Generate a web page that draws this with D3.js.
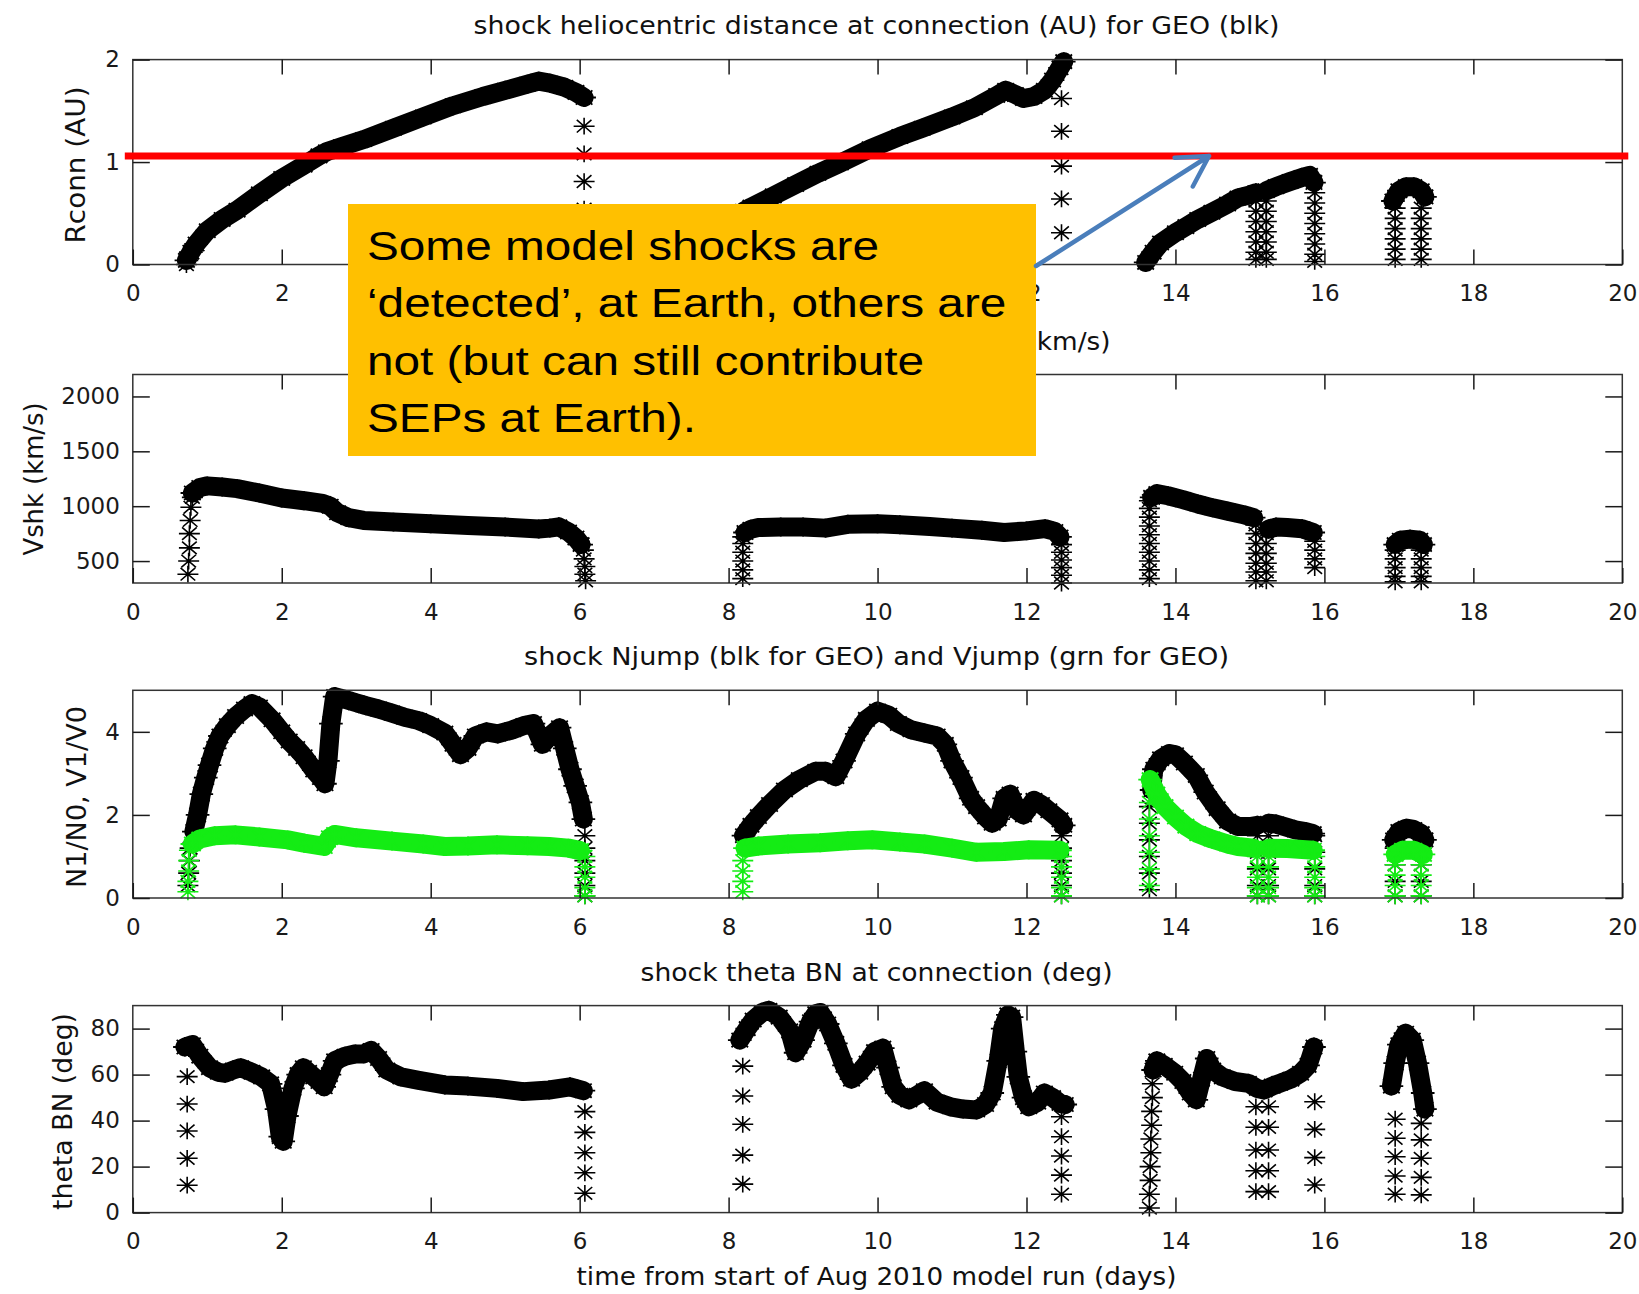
<!DOCTYPE html>
<html><head><meta charset="utf-8">
<script src="https://cdn.jsdelivr.net/npm/d3@7"></script>
<style>body{margin:0;background:#fff}svg{display:block}</style>
</head><body><svg id="c" width="1639" height="1294"></svg>
<script>
// ---------------- DATA ----------------
const xTicks = [0,2,4,6,8,10,12,14,16,18,20];
const rconnTicks = [0,1,2];
const vshkTicks = [500,1000,1500,2000];
const jumpTicks = [0,2,4];
const thetaTicks = [0,20,40,60,80];

// Panel 1: Rconn (AU)
const rconnA = [[0.72,0.04],[0.78,0.12],[0.85,0.2],[1.0,0.33],[1.2,0.44],[1.4,0.53],[1.7,0.69],[2.0,0.84],[2.3,0.97],[2.5,1.06],[2.6,1.1],[2.8,1.15],[3.1,1.22],[3.5,1.33],[3.9,1.44],[4.3,1.55],[4.7,1.64],[5.0,1.70],[5.3,1.76],[5.45,1.79],[5.6,1.77],[5.8,1.73],[5.95,1.68],[6.06,1.63]];
const rconnB = [[8.2,0.52],[8.3,0.56],[8.6,0.67],[8.9,0.78],[9.2,0.89],[9.5,0.99],[9.9,1.13],[10.3,1.25],[10.6,1.33],[11.0,1.44],[11.3,1.53],[11.6,1.65],[11.72,1.70],[11.85,1.66],[11.96,1.62],[12.1,1.64],[12.24,1.70],[12.35,1.8],[12.45,1.92],[12.5,1.98]];
const rconnC = [[13.6,0.02],[13.7,0.12],[13.8,0.21],[14.0,0.31],[14.14,0.37],[14.3,0.44],[14.49,0.51],[14.7,0.59],[14.84,0.65],[15.0,0.68],[15.08,0.70]];
const rconnD = [[15.22,0.72],[15.35,0.76],[15.54,0.81],[15.7,0.85],[15.8,0.87],[15.86,0.8]];
const rconnE = [[16.92,0.62],[17.0,0.72],[17.1,0.76],[17.2,0.76],[17.3,0.72],[17.35,0.66]];
const rconnStars = [[0.72,0.0],[6.06,1.35],[6.06,1.08],[6.06,0.81],[6.06,0.54],[6.06,0.27],[6.06,0.02],
  [8.2,0.4],[8.2,0.27],[8.2,0.13],[8.2,0.0],
  [12.47,1.62],[12.47,1.30],[12.47,0.96],[12.47,0.64],[12.47,0.31],
  [15.08,0.62],[15.08,0.52],[15.08,0.42],[15.08,0.32],[15.08,0.22],[15.08,0.12],[15.08,0.05],
  [15.22,0.62],[15.22,0.52],[15.22,0.42],[15.22,0.32],[15.22,0.22],[15.22,0.12],[15.22,0.05],
  [15.87,0.7],[15.87,0.6],[15.87,0.5],[15.87,0.4],[15.87,0.3],[15.87,0.2],[15.87,0.1],[15.87,0.03],
  [16.95,0.55],[16.95,0.45],[16.95,0.35],[16.95,0.25],[16.95,0.15],[16.95,0.05],
  [17.3,0.55],[17.3,0.45],[17.3,0.35],[17.3,0.25],[17.3,0.15],[17.3,0.05]];

// Panel 2: Vshk (km/s)
const vshkA = [[0.8,1120],[0.9,1170],[1.0,1185],[1.2,1175],[1.4,1160],[1.7,1120],[2.0,1075],[2.3,1050],[2.55,1025],[2.65,1000],[2.75,940],[2.9,895],[3.1,870],[3.5,855],[4.0,840],[4.5,825],[5.0,810],[5.45,792],[5.6,800],[5.72,812],[5.85,765],[5.95,710],[6.02,650]];
const vshkB = [[8.22,760],[8.3,790],[8.4,805],[8.7,810],[9.0,810],[9.3,800],[9.6,835],[10.0,840],[10.3,830],[10.7,815],[11.0,800],[11.4,780],[11.7,760],[12.0,775],[12.25,795],[12.38,770],[12.45,720]];
const vshkC = [[13.68,1080],[13.75,1115],[13.9,1095],[14.1,1060],[14.3,1020],[14.5,985],[14.7,955],[14.9,925],[15.05,895]];
const vshkD = [[15.25,790],[15.35,810],[15.5,805],[15.7,795],[15.85,760]];
const vshkE = [[16.95,650],[17.02,690],[17.15,700],[17.28,690],[17.33,650]];
const vshkStars = [[0.74,380],[0.75,500],[0.76,620],[0.76,750],[0.77,870],[0.78,990],[0.8,1080],
  [6.05,600],[6.06,520],[6.07,450],[6.07,380],[6.08,320],
  [8.19,340],[8.19,420],[8.19,500],[8.19,580],[8.19,660],[8.19,720],
  [12.47,650],[12.47,580],[12.47,510],[12.47,440],[12.47,370],[12.47,300],
  [13.65,340],[13.65,420],[13.65,500],[13.65,580],[13.65,660],[13.65,740],[13.65,820],[13.65,900],[13.65,980],[13.65,1050],
  [15.08,830],[15.08,750],[15.08,660],[15.08,570],[15.08,480],[15.08,400],[15.08,320],
  [15.22,750],[15.22,660],[15.22,570],[15.22,480],[15.22,400],[15.22,320],
  [15.87,680],[15.87,600],[15.87,520],[15.87,440],
  [16.95,600],[16.95,520],[16.95,440],[16.95,360],[16.95,310],
  [17.3,600],[17.3,520],[17.3,440],[17.3,360],[17.3,310]];

// Panel 3: Njump (black)
const njA = [[0.82,1.6],[0.87,2.0],[0.92,2.5],[0.98,2.9],[1.03,3.2],[1.1,3.6],[1.17,3.9],[1.27,4.15],[1.38,4.37],[1.5,4.55],[1.6,4.68],[1.7,4.6],[1.87,4.29],[2.0,4.0],[2.1,3.78],[2.2,3.6],[2.3,3.4],[2.43,3.08],[2.52,2.9],[2.58,2.75],[2.62,3.3],[2.66,4.2],[2.71,4.85],[2.85,4.78],[3.0,4.7],[3.13,4.63],[3.3,4.55],[3.48,4.45],[3.65,4.35],[3.84,4.27],[4.0,4.15],[4.19,3.97],[4.3,3.7],[4.4,3.45],[4.5,3.6],[4.6,3.9],[4.75,4.0],[4.9,3.95],[5.1,4.05],[5.25,4.15],[5.38,4.2],[5.5,3.7],[5.6,3.9],[5.73,4.1],[5.8,3.6],[5.87,3.1],[5.94,2.7],[6.01,2.3],[6.05,1.9]];
const njB = [[8.2,1.5],[8.3,1.75],[8.4,1.96],[8.55,2.25],[8.75,2.6],[8.95,2.85],[9.17,3.05],[9.3,3.05],[9.44,2.92],[9.55,3.3],[9.72,3.95],[9.85,4.3],[10.0,4.5],[10.15,4.4],[10.28,4.2],[10.45,4.05],[10.63,3.97],[10.8,3.9],[10.91,3.7],[11.0,3.3],[11.12,2.9],[11.25,2.4],[11.33,2.2],[11.45,1.95],[11.54,1.8],[11.62,1.9],[11.7,2.4],[11.78,2.5],[11.88,2.1],[11.96,2.0],[12.1,2.35],[12.2,2.25],[12.3,2.1],[12.45,1.88],[12.5,1.75]];
const njC = [[13.68,2.6],[13.71,3.1],[13.8,3.35],[13.92,3.48],[14.0,3.45],[14.12,3.25],[14.28,2.95],[14.4,2.55],[14.56,2.15],[14.7,1.85],[14.84,1.72],[15.0,1.72],[15.1,1.75]];
const njD = [[15.25,1.8],[15.35,1.78],[15.5,1.7],[15.61,1.64],[15.75,1.6],[15.85,1.55]];
const njE = [[16.93,1.4],[17.0,1.6],[17.1,1.68],[17.2,1.65],[17.3,1.55],[17.35,1.4]];
const njStars = [[0.74,0.3],[0.75,0.6],[0.76,0.9],[0.77,1.2],
  [6.07,1.5],[6.07,1.2],[6.07,0.9],[6.07,0.6],[6.07,0.3],[6.07,0.05],
  [12.47,1.5],[12.47,1.2],[12.47,0.9],[12.47,0.6],[12.47,0.3],[12.47,0.05],
  [13.65,0.2],[13.65,0.6],[13.65,1.0],[13.65,1.4],[13.65,1.8],[13.65,2.2],
  [15.1,1.5],[15.1,1.1],[15.1,0.7],[15.1,0.3],[15.1,0.05],
  [15.25,1.5],[15.25,1.1],[15.25,0.7],[15.25,0.3],[15.25,0.05],
  [15.87,1.5],[15.87,1.1],[15.87,0.7],[15.87,0.3],[15.87,0.05],
  [16.95,1.2],[16.95,0.8],[16.95,0.4],[16.95,0.05],
  [17.3,1.2],[17.3,0.8],[17.3,0.4],[17.3,0.05]];

// Panel 3: Vjump (green)
const vjA = [[0.8,1.3],[0.9,1.42],[1.1,1.5],[1.38,1.52],[1.7,1.47],[2.08,1.40],[2.3,1.32],[2.57,1.24],[2.64,1.45],[2.71,1.53],[3.0,1.45],[3.48,1.37],[3.9,1.3],[4.19,1.24],[4.5,1.25],[4.89,1.28],[5.3,1.26],[5.59,1.24],[5.85,1.2],[6.01,1.14]];
const vjB = [[8.22,1.2],[8.4,1.25],[8.8,1.3],[9.23,1.33],[9.6,1.38],[9.93,1.40],[10.3,1.35],[10.63,1.3],[11.0,1.2],[11.33,1.1],[11.7,1.12],[12.03,1.16],[12.45,1.15]];
const vjC = [[13.66,2.85],[13.75,2.5],[13.86,2.2],[14.0,1.95],[14.14,1.73],[14.3,1.55],[14.49,1.42],[14.7,1.3],[14.84,1.24],[15.05,1.2]];
const vjD = [[15.25,1.2],[15.5,1.19],[15.7,1.17],[15.85,1.15]];
const vjE = [[16.95,1.05],[17.05,1.15],[17.2,1.15],[17.33,1.05]];
const vjStars = [[0.74,0.15],[0.74,0.4],[0.75,0.65],[0.75,0.9],[0.76,1.15],
  [6.07,1.0],[6.07,0.75],[6.07,0.5],[6.07,0.25],[6.07,0.05],
  [8.19,0.15],[8.19,0.4],[8.19,0.65],[8.19,0.9],
  [12.47,1.0],[12.47,0.75],[12.47,0.5],[12.47,0.25],[12.47,0.05],
  [13.65,0.3],[13.65,0.7],[13.65,1.1],[13.65,1.5],[13.65,1.9],[13.65,2.3],
  [15.1,1.0],[15.1,0.75],[15.1,0.5],[15.1,0.25],[15.1,0.05],
  [15.25,1.0],[15.25,0.75],[15.25,0.5],[15.25,0.25],[15.25,0.05],
  [15.87,1.0],[15.87,0.75],[15.87,0.5],[15.87,0.25],[15.87,0.05],
  [16.95,0.8],[16.95,0.55],[16.95,0.3],[16.95,0.05],
  [17.3,0.8],[17.3,0.55],[17.3,0.3],[17.3,0.05]];

// Panel 4: theta BN (deg)
const thA = [[0.7,72],[0.8,73],[0.9,68],[1.03,63],[1.15,61],[1.24,60.6],[1.35,62],[1.45,63],[1.6,61],[1.73,59],[1.85,56],[1.93,45],[1.98,33],[2.02,31],[2.07,42],[2.15,54],[2.22,60],[2.29,63],[2.36,61],[2.43,59],[2.5,57],[2.57,54.7],[2.64,60],[2.71,66],[2.85,68],[2.99,69],[3.1,69],[3.2,70.5],[3.3,67],[3.41,62],[3.6,59],[3.84,57.5],[4.19,55.5],[4.5,55],[4.89,54],[5.24,52.6],[5.59,53.3],[5.87,54.7],[6.05,53]];
const thB = [[8.15,75],[8.25,80],[8.33,83.7],[8.45,87],[8.54,88],[8.68,85],[8.82,79],[8.9,69.5],[9.0,75],[9.1,83],[9.17,86.5],[9.23,87],[9.33,82],[9.44,73.6],[9.55,64],[9.65,58],[9.76,61],[9.86,65],[9.96,70],[10.07,71.5],[10.14,63],[10.21,54.7],[10.3,51],[10.42,49],[10.53,51],[10.63,53],[10.8,48],[10.98,46],[11.15,45],[11.33,44.6],[11.45,47],[11.54,52],[11.62,66],[11.68,80],[11.75,86],[11.8,85],[11.85,70],[11.89,59],[11.96,50],[12.03,46],[12.15,48],[12.24,52],[12.35,50],[12.45,47.5],[12.52,47]];
const thC = [[13.7,62],[13.75,66],[13.85,64],[13.99,60.6],[14.1,57],[14.2,52],[14.28,49],[14.35,58],[14.42,67],[14.5,62],[14.63,59],[14.8,57],[14.98,56.2],[15.1,54],[15.19,53.3],[15.3,55],[15.4,56.2],[15.55,58],[15.68,60.6],[15.78,64],[15.86,72]];
const thE = [[16.9,55],[16.95,65],[17.0,73],[17.09,78],[17.18,75],[17.25,65],[17.32,52],[17.35,45]];
const thStars = [[0.73,59.1],[0.73,47.2],[0.73,35.5],[0.73,23.6],[0.73,11.9],
  [6.07,43.9],[6.07,34.9],[6.07,26],[6.07,17.3],[6.07,8.4],
  [8.19,63.7],[8.19,50.7],[8.19,38.4],[8.19,25],[8.19,12.4],
  [12.47,41.7],[12.47,33],[12.47,24.6],[12.47,16.3],[12.47,8],
  [13.65,2],[13.65,8],[13.66,14],[13.66,20],[13.67,26],[13.67,32],[13.68,38],[13.68,44],[13.69,50],[13.69,56],
  [15.08,46],[15.08,37.1],[15.08,27.2],[15.08,18.2],[15.08,9.1],
  [15.25,46],[15.25,37.1],[15.25,27.2],[15.25,18.2],[15.25,9.1],
  [15.87,48.2],[15.87,36.2],[15.87,23.9],[15.87,12],
  [16.95,40.6],[16.95,32.3],[16.95,24.3],[16.95,15.9],[16.95,8],
  [17.3,38.8],[17.3,31.6],[17.3,23.6],[17.3,15.3],[17.3,7.7]];

const titles = ["shock heliocentric distance at connection (AU) for GEO (blk)",
  "shock velocity at connection (km/s)",
  "shock Njump (blk for GEO) and Vjump (grn for GEO)",
  "shock theta BN at connection (deg)"];
const yLabels = ["Rconn (AU)","Vshk (km/s)","N1/N0, V1/V0","theta BN (deg)"];
const xLabel = "time from start of Aug 2010 model run (days)";
const noteLines = ["Some model shocks are","\u2018detected\u2019, at Earth, others are","not (but can still contribute","SEPs at Earth)."];
const earthLine = 1.06;

// ---------------- DRAWING ----------------
const svg = d3.select('#c');
const FONT = 'DejaVu Sans';
const X0 = 132.8, X1 = 1622.3;
const x = d3.scaleLinear().domain([0,20]).range([X0, X1]);

const asterisk = {draw(ctx, size){
  const rx = Math.sqrt(size)/2, ry = rx*0.8, dx = rx*0.7, dy = ry*0.75;
  ctx.moveTo(-rx,0); ctx.lineTo(rx,0);
  ctx.moveTo(0,-ry); ctx.lineTo(0,ry);
  ctx.moveTo(-dx,-dy); ctx.lineTo(dx,dy);
  ctx.moveTo(-dx,dy); ctx.lineTo(dx,-dy);
}};
const sym = d3.symbol().type(asterisk).size(440);
const bandSym = d3.symbol().type(asterisk).size(560);

const GREEN = '#14ec14';
const panels = [
  {top:59.6, bottom:264.5, domain:[0,2], ticks:rconnTicks,
   series:[{color:'#000', bands:[rconnA,rconnB,rconnC,rconnD,rconnE], stars:rconnStars}],
   title:titles[0], tBase:33.5, tLen:806, yl:yLabels[0], ylx:85, yly:165, ylLen:157},
  {top:374.5, bottom:583, domain:[300,2200], ticks:vshkTicks,
   series:[{color:'#000', bands:[vshkA,vshkB,vshkC,vshkD,vshkE], stars:vshkStars}],
   title:titles[1], tBase:350, tLen:468, yl:yLabels[1], ylx:42.5, yly:479, ylLen:153},
  {top:690.3, bottom:898, domain:[0,5], ticks:jumpTicks,
   series:[{color:'#000', bands:[njA,njB,njC,njD,njE], stars:njStars},
           {color:GREEN, bands:[vjA,vjB,vjC,vjD,vjE], stars:vjStars}],
   title:titles[2], tBase:665, tLen:705, yl:yLabels[2], ylx:86, yly:797, ylLen:182},
  {top:1005.6, bottom:1212.6, domain:[0,90], ticks:thetaTicks,
   series:[{color:'#000', bands:[thA,thB,thC,thE], stars:thStars}],
   title:titles[3], tBase:980.5, tLen:472, yl:yLabels[3], ylx:71.5, yly:1111.5, ylLen:197}
];

const xMid = (X0+X1)/2 - 1;
const scales = [];
const fmt = d => String(d);

panels.forEach(p => {
  const y = d3.scaleLinear().domain(p.domain).range([p.bottom, p.top]);
  scales.push(y);
  const g = svg.append('g');
  const line = d3.line().x(d=>x(d[0])).y(d=>y(d[1]));
  p.series.forEach(s => {
    s.bands.forEach(b => {
      g.append('path').datum(b).attr('d', line)
        .attr('fill','none').attr('stroke', s.color).attr('stroke-width', 19)
        .attr('stroke-linejoin','round').attr('stroke-linecap','round');
      g.append('g').selectAll('path').data(b).join('path')
        .attr('transform', d=>`translate(${x(d[0])},${y(d[1])})`)
        .attr('d', bandSym).attr('fill','none').attr('stroke', s.color).attr('stroke-width', 1.8);
    });
    g.append('g').selectAll('path').data(s.stars).join('path')
      .attr('transform', d=>`translate(${x(d[0])},${y(d[1])})`)
      .attr('d', sym).attr('fill','none').attr('stroke', s.color).attr('stroke-width', 1.6);
  });

  // frame
  svg.append('rect').attr('x', X0).attr('y', p.top).attr('width', X1-X0).attr('height', p.bottom-p.top)
    .attr('fill','none').attr('stroke','#333').attr('stroke-width',1.5);

  const style = sel => sel.attr('font-family', FONT).attr('font-size', 23).style('color', '#1a1a1a');
  const gb = svg.append('g').attr('transform', `translate(0,${p.bottom})`)
    .call(d3.axisBottom(x).tickValues(xTicks).tickFormat(fmt).tickSizeInner(-15).tickSizeOuter(0).tickPadding(20.5));
  style(gb); gb.select('.domain').remove(); gb.selectAll('line').attr('stroke-width',1.5);
  const gt = svg.append('g').attr('transform', `translate(0,${p.top})`)
    .call(d3.axisTop(x).tickValues(xTicks.slice(1,-1)).tickSizeInner(-15).tickSizeOuter(0).tickFormat(''));
  style(gt); gt.select('.domain').remove(); gt.selectAll('line').attr('stroke-width',1.5);
  const gl = svg.append('g').attr('transform', `translate(${X0},0)`)
    .call(d3.axisLeft(y).tickValues(p.ticks).tickFormat(fmt).tickSizeInner(-17).tickSizeOuter(0).tickPadding(13));
  style(gl); gl.select('.domain').remove(); gl.selectAll('line').attr('stroke-width',1.5);
  const gr = svg.append('g').attr('transform', `translate(${X1},0)`)
    .call(d3.axisRight(y).tickValues(p.ticks).tickSizeInner(-17).tickSizeOuter(0).tickFormat(''));
  style(gr); gr.select('.domain').remove(); gr.selectAll('line').attr('stroke-width',1.5);

  // title
  svg.append('text').attr('x', xMid).attr('y', p.tBase).attr('text-anchor','middle')
    .attr('font-family', FONT).attr('font-size', 24.5).attr('fill','#111')
    .attr('textLength', p.tLen).attr('lengthAdjust','spacingAndGlyphs').text(p.title);
  // y label
  svg.append('text').attr('transform', `translate(${p.ylx},${p.yly}) rotate(-90)`).attr('text-anchor','middle')
    .attr('font-family', FONT).attr('font-size', 27).attr('fill','#111')
    .attr('textLength', p.ylLen).attr('lengthAdjust','spacingAndGlyphs').text(p.yl);
});

// x label
svg.append('text').attr('x', xMid).attr('y', 1285).attr('text-anchor','middle')
  .attr('font-family', FONT).attr('font-size', 24.5).attr('fill','#111')
  .attr('textLength', 600).attr('lengthAdjust','spacingAndGlyphs').text(xLabel);

// red 1 AU line (annotation)
const yR = scales[0](earthLine);
svg.append('line').attr('x1', X0-8).attr('x2', X1+6).attr('y1', yR).attr('y2', yR)
  .attr('stroke','#ff0000').attr('stroke-width',7);

// annotation box
svg.append('rect').attr('x',348).attr('y',204).attr('width',688).attr('height',252).attr('fill','#FFC000');
const tg = svg.append('g').attr('transform','translate(367,0) scale(1.15,1)');
tg.selectAll('text').data(noteLines).join('text')
  .attr('x',0).attr('y',(d,i)=>260 + i*57.3)
  .attr('font-family','Liberation Sans').attr('font-size',41.5).attr('fill','#000')
  .text(d=>d);

// arrow
const ax0 = 1036, ay0 = 266, ax1 = 1209, ay1 = 156;
const L = Math.hypot(ax1-ax0, ay1-ay0), ux = (ax1-ax0)/L, uy = (ay1-ay0)/L, px = -uy, py = ux;
const arrowPath = d3.path();
arrowPath.moveTo(ax0, ay0); arrowPath.lineTo(ax1, ay1);
arrowPath.moveTo(ax1 - 30*ux + 17*px, ay1 - 30*uy + 17*py); arrowPath.lineTo(ax1, ay1);
arrowPath.lineTo(ax1 - 30*ux - 17*px, ay1 - 30*uy - 17*py);
svg.append('path').attr('d', arrowPath.toString()).attr('fill','none').attr('stroke','#4a7ebb')
  .attr('stroke-width',4.5).attr('stroke-linecap','round').attr('stroke-linejoin','round');
</script>
</body></html>
